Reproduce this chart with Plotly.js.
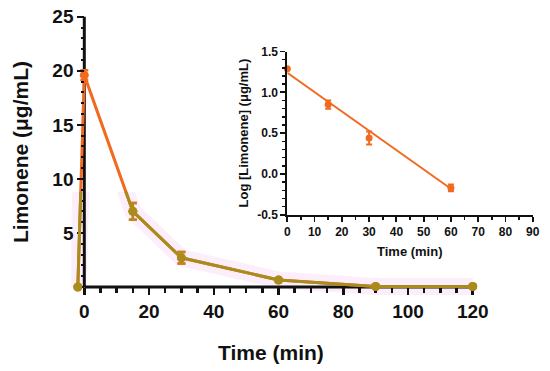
<!DOCTYPE html>
<html>
<head>
<meta charset="utf-8">
<script src="https://cdn.plot.ly/plotly-3.0.1.min.js"></script>
<style>html,body{margin:0;padding:0;background:#fff;}#chart{width:550px;height:371px;}</style>
</head>
<body>
<div id="chart"></div>
<script>
// ---- Data ----
const mainTime = [-2, 0, 15, 30, 60, 90, 120];
const mainConc = [0, 19.6, 7.0, 2.7, 0.65, 0.05, 0.05];
const mainErr  = [0, 0.45, 0.77, 0.53, 0.1, 0.05, 0.05];

const insetTime = [0, 15, 30, 60];
const insetLog  = [1.29, 0.85, 0.44, -0.17];
const insetErr  = [0, 0.05, 0.08, 0.04];
const fitTime = [0, 60];
const fitLog  = [1.24, -0.18];

const mainXTicks = [0, 20, 40, 60, 80, 100, 120];
const mainYTicks = [0, 5, 10, 15, 20, 25];
const mainYTickText = ['', '5', '10', '15', '20', '25'];
const insetXTicks = [0, 10, 20, 30, 40, 50, 60, 70, 80, 90];
const insetYTicks = [-0.5, 0.0, 0.5, 1.0, 1.5];
const insetYTickText = ['-0.5', '0.0', '0.5', '1.0', '1.5'];

// ---- Geometry helpers (pixel placement of the axes) ----
const W = 550, H = 371;
const FONT = 'Liberation Sans, Arial, sans-serif';
const ORANGE = '#f26a1f';
const OLIVE = '#a88d1c';

const mX0 = 84.3, mXs = 3.237, mY0 = 287, mYs = 10.81;
const mXr = [-4, 123], mYr = [-0.9, 25.5];
const clipTop = 8.8;
const mXdom = [(mX0 + mXr[0] * mXs) / W, (mX0 + mXr[1] * mXs) / W];
const yPaper = v => 1 - (mY0 - v * mYs) / H;
const mYdom = [yPaper(mYr[0]), yPaper(mYr[1])];
const cYdom = [yPaper(mYr[0]), yPaper(clipTop)];

const iX0 = 287.3, iXs = 2.727, iY0 = 174.0, iYs = 81.65;
const iXr = [0, 90], iYr = [-0.5, 1.5];
const iXdom = [(iX0 + iXr[0] * iXs) / W, (iX0 + iXr[1] * iXs) / W];
const iYdom = [1 - (iY0 - iYr[0] * iYs) / H, 1 - (iY0 - iYr[1] * iYs) / H];

const traces = [
  // faint pink halo (lower region only), drawn first
  {
    x: mainTime, y: mainConc, xaxis: 'x', yaxis: 'y', type: 'scatter', mode: 'lines',
    line: {color: 'rgba(249,205,244,0.35)', width: 17},
    hoverinfo: 'skip', showlegend: false
  },
  // main orange series
  {
    x: mainTime, y: mainConc, xaxis: 'x2', yaxis: 'y2', type: 'scatter', mode: 'lines+markers',
    line: {color: ORANGE, width: 3}, marker: {color: ORANGE, size: 9},
    error_y: {type: 'data', array: mainErr, visible: true, color: ORANGE, thickness: 2.5, width: 4},
    hoverinfo: 'skip', showlegend: false
  },
  // olive-tinted lower region
  {
    x: mainTime, y: mainConc, xaxis: 'x3', yaxis: 'y3', type: 'scatter', mode: 'lines+markers',
    line: {color: OLIVE, width: 3}, marker: {color: OLIVE, size: 9},
    error_y: {type: 'data', array: mainErr, visible: true, color: '#c0861e', thickness: 2.5, width: 4},
    hoverinfo: 'skip', showlegend: false
  },
  // inset
  {
    x: fitTime, y: fitLog, xaxis: 'x4', yaxis: 'y4', type: 'scatter', mode: 'lines',
    line: {color: ORANGE, width: 2}, hoverinfo: 'skip', showlegend: false
  },
  {
    x: insetTime, y: insetLog, xaxis: 'x4', yaxis: 'y4', type: 'scatter', mode: 'markers',
    marker: {color: ORANGE, size: 7}, cliponaxis: false,
    error_y: {type: 'data', array: insetErr, visible: true, color: ORANGE, thickness: 2, width: 3},
    hoverinfo: 'skip', showlegend: false
  }
];

const tickFontMain = {family: FONT, size: 19, color: '#111', weight: 'bold'};
const tickFontInset = {family: FONT, size: 12, color: '#111', weight: 'bold'};

const layout = {
  width: W, height: H,
  margin: {l: 0, r: 0, t: 0, b: 0},
  paper_bgcolor: '#fff', plot_bgcolor: 'rgba(0,0,0,0)',
  showlegend: false,
  xaxis: {domain: mXdom, range: mXr, anchor: 'y', visible: false, fixedrange: true},
  yaxis: {domain: cYdom, range: [mYr[0], clipTop], anchor: 'x', visible: false, fixedrange: true},
  xaxis2: {
    domain: mXdom, range: mXr, anchor: 'free', position: yPaper(0),
    showline: false, showgrid: false, zeroline: false,
    tickmode: 'array', tickvals: mainXTicks, ticks: 'outside', ticklen: 7, tickwidth: 2.5, tickcolor: '#111',
    minor: {tickmode: 'linear', tick0: 0, dtick: 5, ticks: 'outside', ticklen: 5, tickwidth: 2.5, tickcolor: '#111', showgrid: false},
    tickfont: tickFontMain, fixedrange: true
  },
  yaxis2: {
    domain: mYdom, range: mYr, anchor: 'free', position: mX0 / W,
    showline: false, showgrid: false, zeroline: false,
    tickmode: 'array', tickvals: mainYTicks, ticktext: mainYTickText, ticks: 'outside', ticklen: 7, tickwidth: 2.5, tickcolor: '#111',
    minor: {tickmode: 'linear', tick0: 0, dtick: 1, ticks: 'outside', ticklen: 3, tickwidth: 2, tickcolor: '#111', showgrid: false},
    tickfont: tickFontMain, fixedrange: true
  },
  xaxis3: {domain: mXdom, range: mXr, anchor: 'y3', visible: false, fixedrange: true},
  yaxis3: {domain: cYdom, range: [mYr[0], clipTop], anchor: 'x3', visible: false, fixedrange: true},
  xaxis4: {
    domain: iXdom, range: iXr, anchor: 'y4',
    showline: true, linecolor: '#111', linewidth: 2, showgrid: false, zeroline: false,
    tickmode: 'array', tickvals: insetXTicks, ticks: 'outside', ticklen: 5, tickwidth: 1.8, tickcolor: '#111',
    minor: {tickmode: 'linear', tick0: 0, dtick: 5, ticks: 'outside', ticklen: 3, tickwidth: 1.5, tickcolor: '#111', showgrid: false},
    tickfont: tickFontInset, fixedrange: true
  },
  yaxis4: {
    domain: iYdom, range: iYr, anchor: 'x4',
    showline: true, linecolor: '#111', linewidth: 2, showgrid: false, zeroline: false,
    tickmode: 'array', tickvals: insetYTicks, ticktext: insetYTickText, ticks: 'outside', ticklen: 5, tickwidth: 1.8, tickcolor: '#111',
    minor: {tickmode: 'linear', tick0: 0, dtick: 0.1, ticks: 'outside', ticklen: 3, tickwidth: 1.5, tickcolor: '#111', showgrid: false},
    tickfont: tickFontInset, fixedrange: true
  },
  shapes: [
    {type: 'line', xref: 'x2', yref: 'y2', x0: 0, x1: 0, y0: 0, y1: 25, line: {color: '#111', width: 3}, layer: 'below'},
    {type: 'line', xref: 'x2', yref: 'y2', x0: 0, x1: 121, y0: 0, y1: 0, line: {color: '#111', width: 3}, layer: 'below'}
  ],
  annotations: [
    {text: 'Time (min)', xref: 'paper', yref: 'paper', x: 271 / W, y: 1 - 352 / H, xanchor: 'center', yanchor: 'middle',
     showarrow: false, font: {family: FONT, size: 21, color: '#111', weight: 'bold'}},
    {text: 'Limonene (μg/mL)', xref: 'paper', yref: 'paper', x: 20 / W, y: 1 - 152 / H, xanchor: 'center', yanchor: 'middle',
     textangle: -90, showarrow: false, font: {family: FONT, size: 21, color: '#111', weight: 'bold'}},
    {text: 'Time (min)', xref: 'paper', yref: 'paper', x: 410 / W, y: 1 - 252 / H, xanchor: 'center', yanchor: 'middle',
     showarrow: false, font: {family: FONT, size: 13, color: '#111', weight: 'bold'}},
    {text: 'Log [Limonene] (μg/mL)', xref: 'paper', yref: 'paper', x: 243 / W, y: 1 - 133.5 / H, xanchor: 'center', yanchor: 'middle',
     textangle: -90, showarrow: false, font: {family: FONT, size: 13, color: '#111', weight: 'bold'}}
  ]
};

Plotly.newPlot('chart', traces, layout, {staticPlot: true, displayModeBar: false});
</script>
</body>
</html>
